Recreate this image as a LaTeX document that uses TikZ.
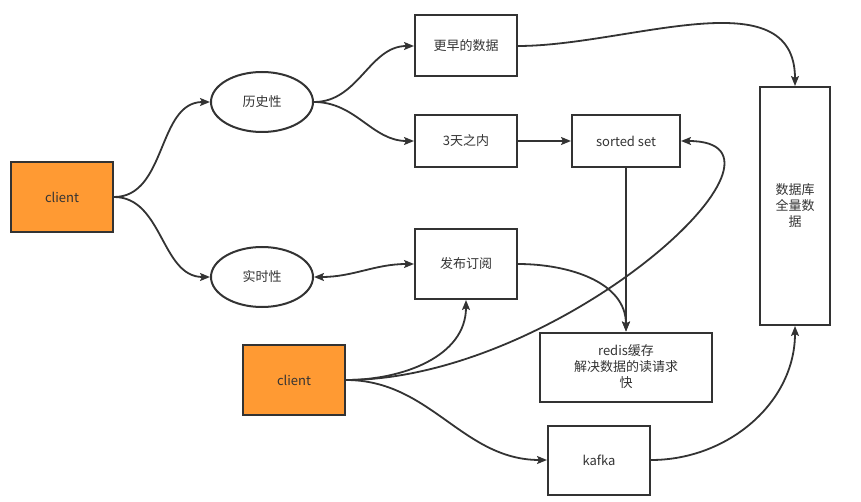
\documentclass[tikz,border=0pt]{standalone}
\usepackage{fontspec}
\setmainfont{Noto Sans CJK SC}
\usetikzlibrary{shapes.geometric,arrows.meta}
\definecolor{linegray}{HTML}{333333}
\definecolor{clientorange}{HTML}{FF9A33}
\begin{document}
\begin{tikzpicture}[x=1pt,y=-1pt,
    every node/.style={text=linegray,font=\fontsize{13}{16}\selectfont,align=center,inner sep=0pt},
    box/.style={draw=linegray,line width=2pt,rectangle,minimum width=102pt,minimum height=#1},
    box/.default=70pt,
    oval/.style={draw=linegray,line width=2pt,ellipse,minimum width=102pt,minimum height=60pt},
    client/.style={box,fill=clientorange}]
      \useasboundingbox (0,0) rectangle (861,502);
      \node[client] (client1) at (62,197) {client};
      \node[oval] (history) at (262,102) {历史性};
      \node[oval] (realtime) at (262,277) {实时性};
      \node[box=61pt] (older) at (466,46) {更早的数据};
      \node[box=52pt] (recent) at (466,141) {3天之内};
      \node[box] (pubsub) at (466,264) {发布订阅};
      \node[box=52pt,minimum width=108pt] (zset) at (626,141) {sorted set};
      \node[box=238pt,minimum width=70pt] (db) at (795,206) {数据库\\全量数\\据};
      \node[box=69pt,minimum width=172pt] (redis) at (626,367) {redis缓存\\解决数据的读请求\\快};
      \node[client] (client2) at (294,380) {client};
      \node[box=69pt] (kafka) at (599,460) {kafka};
      \begin{scope}[draw=linegray,line width=1.8pt,-{Stealth[length=10pt,width=8pt,inset=2pt]}]
        \draw (client1.east) to[out=0,in=180] (history.west);
        \draw (client1.east) to[out=0,in=180] (realtime.west);
        \draw (history.east) to[out=0,in=180] (older.west);
        \draw (history.east) to[out=0,in=180] (recent.west);
        \draw (recent.east) -- (zset.west);
        \draw (older.east) to[out=0,in=90] (db.north);
        \draw (zset.south) -- (redis.north);
        \draw[{Stealth[length=10pt,width=8pt,inset=2pt]}-{Stealth[length=10pt,width=8pt,inset=2pt]}] (realtime.east) to[out=0,in=180] (pubsub.west);
        \draw (pubsub.east) to[out=0,in=90] (redis.north);
        \draw (client2.east) to[out=0,in=-90] (pubsub.south);
        \draw (client2.east) .. controls +(215,0) and +(140,0) .. (zset.east);
        \draw (client2.east) to[out=0,in=180] (kafka.west);
        \draw (kafka.east) to[out=0,in=-90] (db.south);
      \end{scope}
    \end{tikzpicture}
\end{document}
